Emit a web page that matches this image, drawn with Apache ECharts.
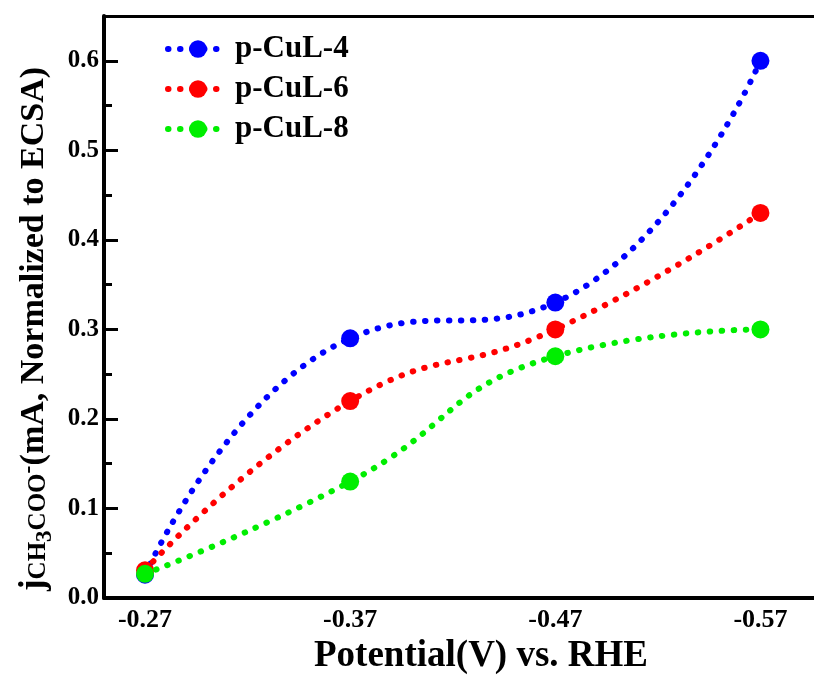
<!DOCTYPE html>
<html><head><meta charset="utf-8">
<script src="https://cdn.jsdelivr.net/npm/echarts@6/dist/echarts.min.js"></script>
<style>html,body{margin:0;padding:0;background:#fff}#c{width:814px;height:682px}</style>
</head><body><div id="c"></div>
<script>
const potentials = [-0.27, -0.37, -0.47, -0.57];
const xTickLabels = [-0.27, -0.37, -0.47, -0.57];
const seriesNames = ['p-CuL-4', 'p-CuL-6', 'p-CuL-8'];
const cuL4 = [0.026, 0.29, 0.33, 0.60];
const cuL6 = [0.031, 0.22, 0.30, 0.43];
const cuL8 = [0.027, 0.13, 0.27, 0.30];
const colors = ['#0000ff', '#ff0000', '#00ee00'];

const F = '"Liberation Serif","Times New Roman",serif';
const values = [cuL4, cuL6, cuL8];
const dash = [0.5, 11.5];
const chart = echarts.init(document.getElementById('c'));
chart.setOption({
  animation: false,
  backgroundColor: '#fff',
  grid: { left: 104, right: -8, top: 16, bottom: 84, outerBoundsMode: 'none', containLabel: false, show: false },
  legend: {
    left: 160, top: 28, orient: 'vertical', itemGap: 8,
    itemWidth: 60, itemHeight: 22,
    lineStyle: { width: 6, type: dash, cap: 'round' },
    textStyle: { fontFamily: F, fontWeight: 'bold', fontSize: 31, lineHeight: 32, color: '#000', padding: [0, 0, 0, 2] },
    data: seriesNames
  },
  xAxis: [{
    type: 'value', inverse: true, min: -0.6, max: -0.25,
    name: 'Potential(V) vs. RHE', nameLocation: 'middle', nameGap: 38,
    nameTextStyle: { fontFamily: F, fontWeight: 'bold', fontSize: 37, color: '#000', padding: [0, 0, 0, 36] },
    axisLine: { lineStyle: { color: '#000', width: 4 } },
    axisTick: { show: false },
    splitLine: { show: false },
    axisLabel: { customValues: xTickLabels, formatter: v => v.toFixed(2), fontFamily: F, fontWeight: 'bold', fontSize: 26, color: '#000', margin: 9 }
  }, {
    type: 'value', inverse: true, min: -0.6, max: -0.25, position: 'top',
    axisLine: { show: true, lineStyle: { color: '#000', width: 3 } },
    axisTick: { show: false }, axisLabel: { show: false }, splitLine: { show: false }
  }],
  yAxis: {
    type: 'value', min: 0, max: 0.65, interval: 0.1,
    name: '{j|j}{s|CH}{t|3}{s|COO}{u|-}{n|(mA, Normalized to ECSA)}',
    nameLocation: 'middle', nameRotate: 90, nameGap: 42,
    nameTextStyle: {
      fontFamily: F, fontWeight: 'bold', color: '#000', padding: [0, 44, 0, 0],
      rich: {
        j: { fontFamily: F, fontWeight: 'bold', fontSize: 35, color: '#000', verticalAlign: 'top', lineHeight: 34 },
        n: { fontFamily: F, fontWeight: 'bold', fontSize: 34, color: '#000', verticalAlign: 'top', lineHeight: 34 },
        s: { fontFamily: F, fontWeight: 'bold', fontSize: 25, color: '#000', verticalAlign: 'top', lineHeight: 25, padding: [9, 0, 0, 0] },
        t: { fontFamily: F, fontWeight: 'bold', fontSize: 23, color: '#000', verticalAlign: 'top', lineHeight: 23, padding: [17, 0, 0, 0] },
        u: { fontFamily: F, fontWeight: 'bold', fontSize: 24, color: '#000', verticalAlign: 'top', lineHeight: 14 }
      }
    },
    axisLine: { lineStyle: { color: '#000', width: 4 } },
    axisTick: { inside: true, length: 14, lineStyle: { color: '#000', width: 3 } },
    minorTick: { show: true, splitNumber: 2, length: 8, lineStyle: { color: '#000', width: 3 } },
    splitLine: { show: false },
    axisLabel: { showMaxLabel: false, formatter: v => v.toFixed(1), fontFamily: F, fontWeight: 'bold', fontSize: 25, color: '#000', margin: 5 }
  },
  series: seriesNames.map((name, i) => ({
    name, type: 'line', smooth: 0.5, xAxisIndex: 0,
    data: potentials.map((p, k) => [p, values[i][k]]),
    symbol: 'circle', symbolSize: 18,
    itemStyle: { color: colors[i] },
    lineStyle: { color: colors[i], width: 6, type: dash, cap: 'round' },
    z: 2 + i
  }))
});
</script></body></html>
